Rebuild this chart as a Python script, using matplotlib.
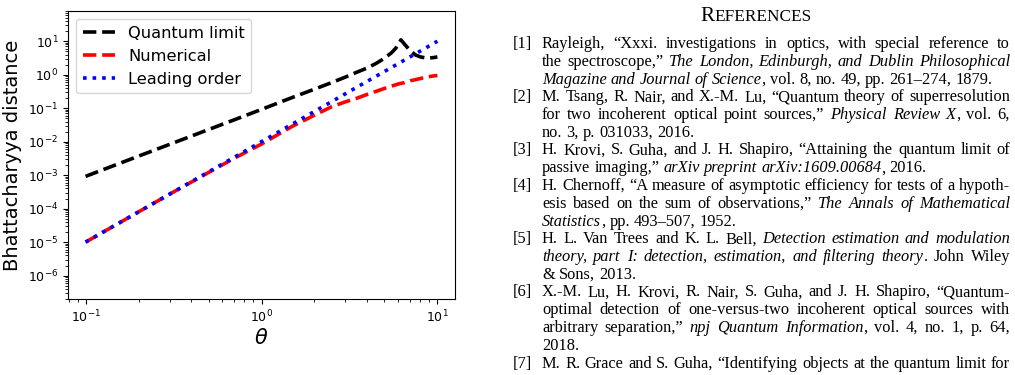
import matplotlib
matplotlib.use("Agg")
import matplotlib.pyplot as plt

# ---------------- data ----------------
theta = [0.1, 0.2, 0.3, 0.5, 0.7, 1.0, 1.5, 2.0, 2.5, 3.0, 3.5, 4.0, 4.5, 5.0,
         5.5, 5.8, 6.0, 6.2, 6.4, 6.7, 7.0, 7.5, 8.0, 8.5, 9.0, 9.5, 10.0]
quantum_limit = [9.2e-4, 3.7e-3, 8.3e-3, 2.3e-2, 4.5e-2, 9.2e-2, 0.21, 0.37, 0.58,
                 0.85, 1.2, 1.6, 2.2, 3.1, 4.6, 6.2, 8.0, 11.0, 9.0, 6.8, 5.2,
                 3.9, 3.4, 3.2, 3.15, 3.25, 3.4]
numerical = [1.0e-5, 8.0e-5, 2.7e-4, 1.2e-3, 3.2e-3, 8.5e-3, 0.029, 0.062, 0.11,
             0.155, 0.2, 0.26, 0.32, 0.39, 0.46, 0.50, 0.53, 0.55, 0.57, 0.61,
             0.66, 0.71, 0.77, 0.83, 0.88, 0.92, 0.95]
leading_order = [1.0e-5, 8.0e-5, 2.7e-4, 1.25e-3, 3.43e-3, 0.01, 0.03375, 0.08,
                 0.156, 0.27, 0.43, 0.64, 0.91, 1.25, 1.66, 1.95, 2.16, 2.38,
                 2.62, 3.0, 3.43, 4.2, 5.1, 6.1, 7.3, 8.6, 10.0]
series_labels = ["Quantum limit", "Numerical", "Leading order"]

title_first = "R"
title_rest = "EFERENCES"
ref_numbers = ["[1]", "[2]", "[3]", "[4]", "[5]", "[6]", "[7]"]
# each reference: list of lines; each line: (segments, justified)
references = [
    [([("Rayleigh, \u201cXxxi. investigations in optics, with special reference to", False)], True),
     ([("the spectroscope,\u201d ", False), ("The London, Edinburgh, and Dublin Philosophical", True)], True),
     ([("Magazine and Journal of Science", True), (", vol. 8, no. 49, pp. 261\u2013274, 1879.", False)], False)],
    [([("M. Tsang, R. Nair, and X.-M. Lu, \u201cQuantum theory of superresolution", False)], True),
     ([("for two incoherent optical point sources,\u201d ", False), ("Physical Review X", True), (", vol. 6,", False)], True),
     ([("no. 3, p. 031033, 2016.", False)], False)],
    [([("H. Krovi, S. Guha, and J. H. Shapiro, \u201cAttaining the quantum limit of", False)], True),
     ([("passive imaging,\u201d ", False), ("arXiv preprint arXiv:1609.00684", True), (", 2016.", False)], False)],
    [([("H. Chernoff, \u201cA measure of asymptotic efficiency for tests of a hypoth-", False)], True),
     ([("esis based on the sum of observations,\u201d ", False), ("The Annals of Mathematical", True)], True),
     ([("Statistics", True), (", pp. 493\u2013507, 1952.", False)], False)],
    [([("H. L. Van Trees and K. L. Bell, ", False), ("Detection estimation and modulation", True)], True),
     ([("theory, part I: detection, estimation, and filtering theory", True), (". John Wiley", False)], True),
     ([("& Sons, 2013.", False)], False)],
    [([("X.-M. Lu, H. Krovi, R. Nair, S. Guha, and J. H. Shapiro, \u201cQuantum-", False)], True),
     ([("optimal detection of one-versus-two incoherent optical sources with", False)], True),
     ([("arbitrary separation,\u201d ", False), ("npj Quantum Information", True), (", vol. 4, no. 1, p. 64,", False)], True),
     ([("2018.", False)], False)],
    [([("M. R. Grace and S. Guha, \u201cIdentifying objects at the quantum limit for", False)], True)],
]

# ---------------- figure ----------------
W, H, DPI = 1015, 375, 100
fig = plt.figure(figsize=(W / DPI, H / DPI), dpi=DPI)
fig.patch.set_facecolor("white")

ax = fig.add_axes([68 / W, 1 - 299 / H, (455 - 68) / W, (299 - 11) / H])
lw = 2.6
ax.plot(theta, quantum_limit, color="black", ls="--", lw=lw, label=series_labels[0])
ax.plot(theta, numerical, color="red", ls="--", lw=lw, label=series_labels[1])
ax.plot(theta, leading_order, color="blue", ls=":", lw=lw, label=series_labels[2])
ax.set_xscale("log")
ax.set_yscale("log")
ax.set_xlim(10 ** -1.1, 10 ** 1.1)
ax.set_ylim(2e-7, 8e1)
ax.tick_params(labelsize=9)
ax.set_xlabel(r"$\theta$", fontsize=15, labelpad=2)
ax.set_ylabel("Bhattacharyya distance", fontsize=14)
ax.legend(loc="upper left", fontsize=11.7)

# ---------------- references text ----------------
renderer = fig.canvas.get_renderer()
FAM = "Liberation Serif"


def ink(txt, size, italic=False):
    t = fig.text(0, 0, txt, fontsize=size, family=FAM,
                 style="italic" if italic else "normal")
    w = t.get_window_extent(renderer).width
    t.remove()
    return w


def advance(txt, size, italic=False):
    return ink(txt + "|", size, italic) - ink("|", size, italic)


def put(x, y, txt, size, italic=False, ha="left"):
    fig.text(x / W, 1 - y / H, txt, fontsize=size, family=FAM,
             style="italic" if italic else "normal", ha=ha, va="baseline",
             color="black")


def to_words(segs):
    words = [[]]
    for text, it in segs:
        parts = text.split(" ")
        for i, p in enumerate(parts):
            if i > 0:
                words.append([])
            if p:
                words[-1].append((p, it))
    return [w for w in words if w]


REF_SIZE = 11.8
X_NUM = 532
X0, X1 = 542, 1010
Y0, DY = 48, 17.75
space_px = 0.25 * REF_SIZE * DPI / 72

# title in small caps
t_big, t_small = 15.2, 12.4
w1 = advance(title_first, t_big)
w2 = ink(title_rest, t_small)
tx = 756 - (w1 + w2) / 2
put(tx, 21, title_first, t_big)
put(tx + w1, 21, title_rest, t_small)

line_idx = 0
for num, ref in zip(ref_numbers, references):
    put(X_NUM, Y0 + line_idx * DY, num, REF_SIZE, ha="right")
    for segs, just in ref:
        y = Y0 + line_idx * DY
        words = to_words(segs)
        widths = []
        for w in words:
            ws = []
            for k, (p, it) in enumerate(w):
                if k < len(w) - 1:
                    ws.append(advance(p, REF_SIZE, it))
                else:
                    ws.append(ink(p, REF_SIZE, it))
            widths.append(ws)
        total = sum(sum(ws) for ws in widths)
        if just and len(words) > 1:
            gap = max((X1 - X0 - total) / (len(words) - 1), 0.6 * space_px)
        else:
            gap = space_px
        x = X0
        for w, ws in zip(words, widths):
            for (p, it), wd in zip(w, ws):
                put(x, y, p, REF_SIZE, it)
                x += wd
            x += gap
        line_idx += 1

fig.savefig("out.png", dpi=DPI, facecolor="white")
